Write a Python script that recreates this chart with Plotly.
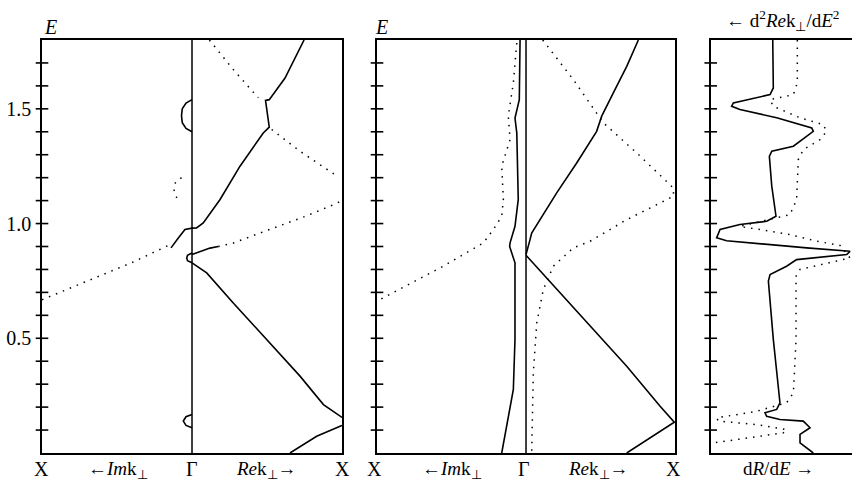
import plotly.graph_objects as go

# ---------------- data (k: signed, left = Im k, right = Re k; E) ----------------
# Panel 1
p1_a_k = [0.747, 0.62, 0.515, 0.49, 0.515, 0.475, 0.32, 0.187, 0.075, 0.03, 0.0, -0.047, -0.09, -0.14]
p1_a_E = [1.8, 1.634, 1.54, 1.537, 1.42, 1.395, 1.25, 1.105, 1.003, 0.981, 0.98, 0.974, 0.938, 0.894]
p1_b_k = [-1.0, -0.7, -0.4, -0.147]
p1_b_E = [0.668, 0.75, 0.83, 0.908]
p1_c_k = [0.0, 0.06, 0.12, 0.175]
p1_c_E = [0.865, 0.88, 0.893, 0.90]
p1_d_k = [0.175, 0.275, 0.5, 0.75, 0.96, 1.0]
p1_d_E = [0.90, 0.915, 0.97, 1.03, 1.087, 1.10]
p1_e_k = [0.116, 0.275, 0.442]
p1_e_E = [1.8, 1.671, 1.548]
p1_f_k = [0.531, 0.72, 0.953]
p1_f_E = [1.41, 1.315, 1.213]
p1_g_k = [0.0, -0.04, -0.065, -0.07, -0.065, -0.04, 0.0]
p1_g_E = [1.54, 1.525, 1.50, 1.47, 1.44, 1.415, 1.40]
p1_h_k = [-0.07, -0.11, -0.12, -0.11, -0.08]
p1_h_E = [1.2, 1.18, 1.148, 1.12, 1.097]
p1_i_k = [0.0, -0.03, -0.035, -0.03, 0.0]
p1_i_E = [0.872, 0.862, 0.85, 0.838, 0.829]
p1_j_k = [0.0, 0.098, 0.275, 0.5, 0.72, 0.876, 0.987, 1.0]
p1_j_E = [0.829, 0.785, 0.654, 0.494, 0.335, 0.211, 0.16, 0.155]
p1_l_k = [0.653, 0.831, 0.987, 1.0]
p1_l_E = [0.0, 0.073, 0.117, 0.12]
p1_m_k = [0.0, -0.04, -0.058, -0.04, 0.0]
p1_m_E = [0.168, 0.158, 0.139, 0.12, 0.11]

# Panel 2
p2_a_k = [0.754, 0.676, 0.586, 0.508, 0.474, 0.34, 0.206, 0.094, 0.038, 0.027, 0.0]
p2_a_E = [1.8, 1.685, 1.57, 1.468, 1.402, 1.264, 1.134, 1.017, 0.959, 0.93, 0.865]
p2_b_k = [0.0, 0.228, 0.45, 0.676, 0.9, 0.995, 0.676]
p2_b_E = [0.862, 0.698, 0.538, 0.378, 0.204, 0.134, 0.0]
p2_c_k = [0.112, 0.318, 0.519, 0.743, 0.989, 0.99, 0.676, 0.43, 0.317, 0.183, 0.116, 0.072, 0.049, 0.038]
p2_c_E = [1.8, 1.627, 1.439, 1.308, 1.155, 1.119, 1.017, 0.923, 0.894, 0.814, 0.712, 0.567, 0.349, 0.0]
p2_d_k = [-0.04, -0.045, -0.074, -0.062, -0.052, -0.074, -0.107, -0.11, -0.074, -0.074, -0.085, -0.13, -0.163]
p2_d_E = [1.8, 1.54, 1.46, 1.395, 1.105, 0.988, 0.916, 0.9, 0.829, 0.495, 0.277, 0.117, 0.0]
p2_e_k = [-0.062, -0.085, -0.119, -0.107, -0.163, -0.152, -0.163, -0.219, -0.286, -0.555, -0.98]
p2_e_E = [1.787, 1.613, 1.468, 1.366, 1.25, 1.105, 1.032, 0.974, 0.916, 0.814, 0.669]

# Panel 3 (derivative spectra, arbitrary units)
p3_solid_u = [0.439, 0.443, 0.42, 0.326, 0.16, 0.148, 0.207, 0.467, 0.715, 0.726, 0.679, 0.585, 0.432,
              0.415, 0.432, 0.462, 0.396, 0.207, 0.066, 0.042, 0.112, 0.325, 0.679, 0.986, 0.962, 0.608,
              0.537, 0.42, 0.408, 0.443, 0.49, 0.467, 0.384, 0.396, 0.49, 0.655, 0.703, 0.632, 0.632, 0.726]
p3_solid_E = [1.8, 1.591, 1.562, 1.548, 1.526, 1.511, 1.497, 1.461, 1.417, 1.402, 1.38, 1.337, 1.315,
              1.293, 1.163, 1.032, 1.01, 0.996, 0.974, 0.938, 0.925, 0.913, 0.894, 0.879, 0.865, 0.843,
              0.814, 0.778, 0.749, 0.495, 0.219, 0.19, 0.175, 0.16, 0.146, 0.139, 0.11, 0.081, 0.044, 0.0]
p3_dot_u = [0.613, 0.613, 0.585, 0.42, 0.443, 0.632, 0.797, 0.82, 0.774, 0.655, 0.62, 0.608, 0.561, 0.207,
            0.561, 0.75, 0.915, 0.986, 0.632, 0.604, 0.604, 0.585, 0.537, 0.325, 0.042, 0.054, 0.325,
            0.537, 0.514, 0.278, 0.02]
p3_dot_E = [1.8, 1.613, 1.562, 1.54, 1.511, 1.461, 1.431, 1.402, 1.366, 1.322, 1.279, 1.105, 1.039, 0.988,
            0.952, 0.923, 0.905, 0.85, 0.8, 0.77, 0.495, 0.262, 0.219, 0.182, 0.153, 0.139, 0.124,
            0.102, 0.088, 0.066, 0.044]

minor_ticks = [0.1 * i for i in range(1, 18)]
major_ticks = [0.5, 1.0, 1.5]
major_labels = ["0.5", "1.0", "1.5"]

# ---------------- figure ----------------
FONT = "Liberation Serif, Times New Roman, serif"
SOLID = dict(color="black", width=1.6)
DOT = dict(color="black", width=1.5, dash="1.5px,6px")

fig = go.Figure()

def add(x, y, line, xa, ya):
    fig.add_trace(go.Scatter(x=x, y=y, mode="lines", line=line, xaxis=xa, yaxis=ya,
                             showlegend=False, hoverinfo="skip"))

# panel 1
for xs, ys, ln in [(p1_a_k, p1_a_E, SOLID), (p1_b_k, p1_b_E, DOT), (p1_c_k, p1_c_E, SOLID),
                   (p1_d_k, p1_d_E, DOT), (p1_e_k, p1_e_E, DOT), (p1_f_k, p1_f_E, DOT),
                   (p1_g_k, p1_g_E, SOLID), (p1_h_k, p1_h_E, DOT), (p1_i_k, p1_i_E, SOLID),
                   (p1_j_k, p1_j_E, SOLID), (p1_l_k, p1_l_E, SOLID), (p1_m_k, p1_m_E, SOLID)]:
    add(xs, ys, ln, "x", "y")
# panel 2
for xs, ys, ln in [(p2_a_k, p2_a_E, SOLID), (p2_b_k, p2_b_E, SOLID), (p2_c_k, p2_c_E, DOT),
                   (p2_d_k, p2_d_E, SOLID), (p2_e_k, p2_e_E, DOT)]:
    add(xs, ys, ln, "x2", "y2")
# panel 3
add(p3_solid_u, p3_solid_E, SOLID, "x3", "y3")
add(p3_dot_u, p3_dot_E, DOT, "x3", "y3")

# crossing tick marks on the left axis of every panel
for xa, ya, x0 in [("x", "y", -1.0), ("x2", "y2", -1.0), ("x3", "y3", 0.0)]:
    fig.add_trace(go.Scatter(x=[x0] * len(minor_ticks), y=minor_ticks, mode="markers",
                             marker=dict(symbol="line-ew", size=9, line=dict(color="black", width=1.6)),
                             xaxis=xa, yaxis=ya, cliponaxis=False, showlegend=False, hoverinfo="skip"))

# Gamma lines
for xr in ["x", "x2"]:
    fig.add_shape(type="line", xref=xr, yref="paper", x0=0, x1=0, y0=0, y1=1,
                  line=dict(color="black", width=1.5))

ax_common = dict(showgrid=False, zeroline=False, showline=True, linecolor="black", linewidth=1.6,
                 ticks="", showticklabels=False)
fig.update_layout(
    width=852, height=486,
    margin=dict(l=42, r=0, t=40, b=33),
    paper_bgcolor="white", plot_bgcolor="white",
    font=dict(family=FONT, size=18, color="black"),
    xaxis=dict(domain=[0.0, 0.3704], range=[-1, 1], mirror=True, **ax_common),
    xaxis2=dict(domain=[0.4136, 0.7815], range=[-1, 1], mirror=True, **ax_common),
    xaxis3=dict(domain=[0.8256, 1.0], range=[0, 1], mirror=True, **ax_common),
    yaxis=dict(anchor="x", range=[0, 1.8], mirror=True,
               **{**ax_common, "showticklabels": True}, tickvals=major_ticks, ticktext=major_labels,
               ticklabelstandoff=5, tickfont=dict(family=FONT, size=20)),
    yaxis2=dict(anchor="x2", range=[0, 1.8], mirror=True, **ax_common),
    yaxis3=dict(anchor="x3", range=[0, 1.8], mirror=False, **ax_common),
)

def ann(text, x_px, y_px, yanchor="top", size=18):
    fig.add_annotation(text=text, x=(x_px - 42) / 810, xref="paper", y=(453 - y_px) / 413, yref="paper",
                       showarrow=False, xanchor="center", yanchor=yanchor,
                       font=dict(family=FONT, size=size, color="black"))

bottom_y = 456
ann("X", 41, bottom_y, size=20)
ann("←<i>Im</i>k<sub>⊥</sub>", 118, bottom_y, size=19)
ann("Γ", 192, bottom_y, size=20)
ann("<i>Re</i>k<sub>⊥</sub>→", 266, bottom_y, size=19)
ann("X", 342, bottom_y, size=20)

ann("X", 374, bottom_y, size=20)
ann("←<i>Im</i>k<sub>⊥</sub>", 452, bottom_y, size=19)
ann("Γ", 524, bottom_y, size=20)
ann("<i>Re</i>k<sub>⊥</sub>→", 598, bottom_y, size=19)
ann("X", 673, bottom_y, size=20)

ann("d<i>R</i>/d<i>E</i> →", 778, bottom_y, size=19)
ann("← d<sup>2</sup><i>Re</i>k<sub>⊥</sub>/d<i>E</i><sup>2</sup>", 783, 36, yanchor="bottom", size=19)

ann("<i>E</i>", 50, 27, yanchor="middle", size=20)
ann("<i>E</i>", 381, 27, yanchor="middle", size=20)

fig.write_html("out.html", config={"displayModeBar": False},
               post_script="document.body.style.margin='0';document.body.style.overflow='hidden';")
